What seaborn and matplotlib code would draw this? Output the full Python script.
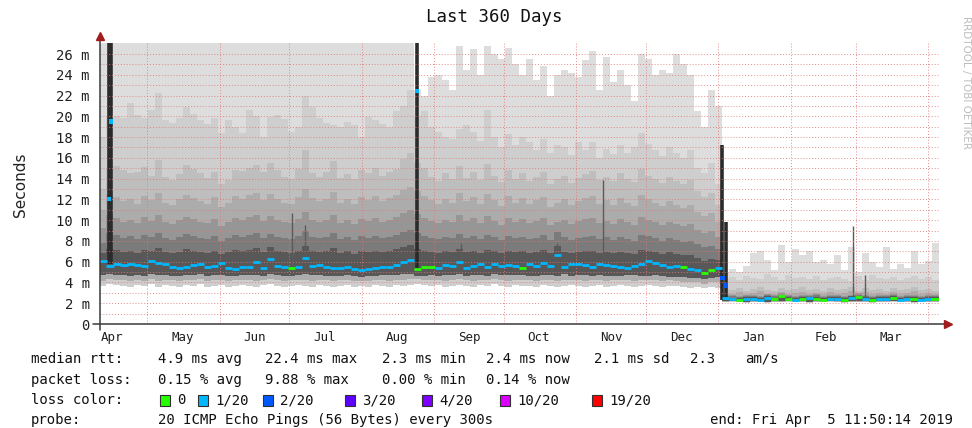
import numpy as np
import pandas as pd
import matplotlib
matplotlib.use("Agg")
import matplotlib.pyplot as plt
import matplotlib.dates as mdates
from matplotlib.ticker import NullFormatter, FixedLocator
from matplotlib.patches import Rectangle
import seaborn as sns

# ---------------- data (3-day bins, 10 Apr 2018 -> 5 Apr 2019) ----------------
START = "2018-04-10 11:50:14"
BIN_DAYS = 3

median = [
6.1, 5.6, 5.8, 5.7, 5.8, 5.7, 5.6, 6.1, 5.9, 5.8,
5.5, 5.4, 5.5, 5.7, 5.8, 5.5, 5.6, 5.9, 5.4, 5.3,
5.5, 5.5, 6.0, 5.4, 6.3, 5.6, 5.5, 5.4, 5.5, 6.4,
5.6, 5.7, 5.5, 5.4, 5.4, 5.5, 5.3, 5.2, 5.3, 5.4,
5.5, 5.5, 5.7, 6.0, 6.2, 5.3, 5.5, 5.5, 5.4, 5.7,
5.6, 6.0, 5.4, 5.6, 5.8, 5.5, 5.8, 5.6, 5.7, 5.6,
5.4, 5.8, 5.6, 5.9, 5.6, 6.6, 5.5, 5.8, 5.8, 5.7,
5.5, 5.8, 5.7, 5.6, 5.5, 5.4, 5.6, 5.8, 6.1, 5.9,
5.7, 5.5, 5.6, 5.5, 5.3, 5.2, 4.9, 5.2, 5.4, 2.5,
2.4, 2.3, 2.4, 2.4, 2.3, 2.5, 2.4, 2.7, 2.4, 2.3,
2.4, 2.5, 2.4, 2.3, 2.4, 2.4, 2.3, 2.5, 2.6, 2.4,
2.3, 2.4, 2.4, 2.5, 2.3, 2.4, 2.4, 2.3, 2.4, 2.4]

# lost pings out of 20 for each bin
loss = [
1, 1, 1, 1, 1, 1, 1, 1, 1, 1,
1, 1, 1, 1, 1, 1, 1, 1, 1, 1,
1, 1, 1, 1, 1, 1, 1, 0, 1, 1,
1, 1, 1, 1, 1, 1, 1, 1, 1, 1,
1, 1, 1, 1, 1, 0, 0, 0, 1, 1,
1, 1, 1, 1, 1, 1, 1, 1, 1, 1,
0, 1, 1, 1, 1, 1, 1, 1, 1, 1,
1, 1, 1, 1, 1, 1, 1, 1, 1, 1,
1, 1, 1, 0, 1, 1, 0, 0, 1, 1,
1, 0, 1, 1, 1, 1, 0, 0, 0, 1,
0, 1, 0, 0, 1, 1, 0, 1, 0, 1,
0, 1, 1, 0, 1, 1, 0, 1, 1, 0]

# smoke: upper edges of the bands (outer -> inner), milliseconds
smoke_u1 = [
27.5, 27.5, 27.5, 27.5, 27.5, 27.5, 27.5, 27.5, 27.5, 27.5,
27.5, 27.5, 27.5, 27.5, 27.5, 27.5, 27.5, 27.5, 27.5, 27.5,
27.5, 27.5, 27.5, 27.5, 27.5, 27.5, 27.5, 27.5, 27.5, 27.5,
27.5, 27.5, 27.5, 27.5, 27.5, 27.5, 27.5, 27.5, 27.5, 27.5,
27.5, 27.5, 27.5, 27.5, 27.5, 22.5, 22.0, 23.8, 24.0, 23.5,
22.5, 26.8, 24.5, 26.5, 24.0, 26.8, 26.0, 25.5, 26.6, 25.0,
24.0, 25.5, 23.5, 24.8, 22.0, 24.0, 24.5, 24.2, 23.8, 25.4,
26.3, 22.5, 25.7, 23.3, 24.5, 23.0, 21.5, 26.0, 25.5, 24.0,
24.5, 24.2, 26.0, 25.0, 24.0, 20.5, 19.0, 22.5, 21.0, 5.0,
5.3, 5.0, 5.6, 6.8, 7.0, 6.2, 5.2, 7.6, 6.0, 7.2,
6.6, 7.0, 6.0, 6.2, 5.8, 6.6, 5.2, 7.4, 5.0, 6.8,
6.0, 5.5, 7.4, 5.3, 5.8, 5.4, 7.0, 5.8, 6.1, 7.8]

smoke_u2 = [
18.0, 20.0, 20.0, 19.8, 21.3, 20.1, 19.8, 20.6, 22.2, 19.6,
19.4, 19.8, 20.9, 20.2, 19.6, 19.3, 19.8, 18.4, 19.6, 19.0,
18.4, 20.6, 20.0, 18.0, 19.9, 20.1, 19.7, 18.5, 19.0, 22.0,
20.9, 19.8, 19.4, 19.2, 19.0, 19.5, 19.2, 18.0, 19.9, 19.6,
19.3, 19.0, 20.5, 21.0, 22.5, 20.0, 20.5, 19.0, 18.5, 18.0,
17.8, 18.8, 19.2, 18.5, 17.6, 20.6, 18.0, 17.0, 18.3, 17.2,
18.0, 17.5, 16.8, 17.8, 16.5, 17.2, 17.0, 16.3, 17.5, 16.8,
17.5, 16.0, 16.9, 16.4, 17.2, 16.5, 17.0, 18.4, 17.3, 16.8,
16.2, 17.0, 16.5, 16.0, 16.8, 15.0, 14.5, 15.5, 13.5, 4.3,
4.5, 4.2, 4.6, 4.4, 4.3, 4.8, 4.5, 4.2, 4.7, 4.4,
4.5, 4.3, 4.6, 4.2, 4.4, 4.5, 4.3, 4.1, 4.6, 4.2,
4.7, 4.4, 4.3, 4.5, 4.2, 4.4, 4.6, 4.3, 4.5, 4.2]

smoke_u3 = [
13.0, 15.0, 15.2, 14.8, 14.5, 14.6, 15.1, 14.3, 15.8, 14.2,
13.9, 14.4, 15.3, 14.9, 14.5, 14.1, 14.6, 13.5, 13.9, 14.8,
14.7, 15.0, 15.3, 14.6, 15.5, 14.8, 14.2, 14.0, 14.9, 16.8,
14.5, 14.2, 14.6, 15.7, 14.1, 14.4, 14.0, 14.8, 14.5, 15.0,
14.3, 14.6, 14.9, 15.9, 16.5, 15.5, 15.0, 14.2, 13.8, 14.5,
14.0, 15.2, 14.1, 14.6, 13.9, 15.4, 14.3, 13.7, 14.8, 14.0,
14.5, 13.8, 14.2, 14.6, 13.5, 14.0, 14.3, 13.6, 14.1, 14.4,
14.7, 13.9, 14.2, 13.8, 14.5, 14.0, 13.7, 14.9, 14.3, 14.0,
13.6, 14.2, 13.8, 13.5, 13.9, 12.8, 12.2, 12.6, 11.5, 3.4,
3.3, 3.5, 3.2, 3.4, 3.6, 3.3, 3.2, 3.5, 3.3, 3.4,
3.6, 3.3, 3.4, 3.2, 3.5, 3.3, 3.4, 3.6, 3.2, 3.5,
3.3, 3.4, 3.2, 3.5, 3.3, 3.4, 3.6, 3.3, 3.4, 3.2]

smoke_u4 = [
11.0, 12.5, 12.2, 11.8, 12.0, 11.6, 12.3, 11.9, 12.6, 11.7,
11.5, 12.0, 12.4, 12.1, 11.8, 11.6, 12.2, 11.3, 11.7, 12.3,
12.0, 12.4, 12.6, 11.9, 12.5, 12.0, 11.7, 11.6, 12.2, 13.0,
12.1, 11.8, 12.0, 12.7, 11.7, 12.0, 11.6, 12.2, 11.9, 12.3,
11.8, 12.1, 12.4, 12.9, 13.2, 12.8, 12.3, 11.9, 11.6, 12.0,
11.7, 12.6, 11.8, 12.2, 11.6, 12.5, 11.9, 11.4, 12.3, 11.7,
12.1, 11.6, 11.9, 12.2, 11.3, 11.7, 12.0, 11.5, 11.8, 12.1,
12.3, 11.6, 11.9, 11.5, 12.1, 11.7, 11.4, 12.4, 12.0, 11.7,
11.4, 11.8, 11.5, 11.2, 11.5, 10.8, 10.4, 10.7, 9.8, 3.0,
2.9, 3.1, 2.9, 3.0, 3.2, 2.9, 2.9, 3.1, 2.9, 3.0,
3.1, 2.9, 3.0, 2.9, 3.1, 2.9, 3.0, 3.2, 2.9, 3.1,
2.9, 3.0, 2.9, 3.1, 2.9, 3.0, 3.2, 2.9, 3.0, 2.9]

smoke_u5 = [
9.2, 10.5, 10.2, 9.8, 10.0, 9.7, 10.3, 9.9, 10.5, 9.8,
9.6, 10.0, 10.3, 10.1, 9.8, 9.7, 10.1, 9.4, 9.8, 10.2,
10.0, 10.3, 10.5, 9.9, 10.4, 10.0, 9.8, 9.7, 10.1, 10.8,
10.0, 9.8, 10.0, 10.5, 9.7, 10.0, 9.6, 10.1, 9.9, 10.2,
9.8, 10.0, 10.3, 10.7, 11.0, 10.6, 10.2, 9.9, 9.7, 10.0,
9.8, 10.5, 9.9, 10.2, 9.7, 10.4, 9.9, 9.5, 10.2, 9.8,
10.1, 9.7, 9.9, 10.2, 9.5, 9.8, 10.0, 9.6, 9.9, 10.1,
10.2, 9.7, 9.9, 9.6, 10.1, 9.8, 9.5, 10.3, 10.0, 9.8,
9.5, 9.8, 9.6, 9.4, 9.6, 9.1, 8.8, 9.0, 8.4, 2.8,
2.8, 2.7, 2.8, 2.8, 2.7, 2.9, 2.8, 3.0, 2.8, 2.7,
2.8, 2.8, 2.9, 2.7, 2.8, 2.8, 2.7, 2.8, 3.0, 2.8,
2.7, 2.8, 2.8, 2.9, 2.7, 2.8, 2.8, 2.7, 2.8, 2.8]

smoke_u6 = [
7.8, 8.8, 8.6, 8.3, 8.5, 8.2, 8.6, 8.4, 8.8, 8.3,
8.1, 8.4, 8.7, 8.5, 8.3, 8.2, 8.5, 8.0, 8.3, 8.6,
8.4, 8.6, 8.8, 8.3, 8.7, 8.4, 8.3, 8.2, 8.5, 9.0,
8.4, 8.3, 8.4, 8.8, 8.2, 8.4, 8.1, 8.5, 8.3, 8.5,
8.3, 8.4, 8.6, 8.9, 9.1, 8.8, 8.5, 8.3, 8.2, 8.4,
8.3, 8.7, 8.3, 8.5, 8.2, 8.6, 8.4, 8.1, 8.5, 8.3,
8.4, 8.2, 8.3, 8.6, 8.1, 8.9, 8.4, 8.1, 8.3, 8.4,
8.5, 8.2, 8.4, 8.1, 8.4, 8.2, 8.0, 8.6, 8.5, 8.3,
8.0, 8.3, 8.1, 7.9, 8.0, 7.7, 7.4, 7.5, 7.2, 2.7,
2.65, 2.6, 2.7, 2.7, 2.6, 2.75, 2.7, 2.8, 2.7, 2.6,
2.7, 2.7, 2.75, 2.6, 2.7, 2.7, 2.6, 2.7, 2.8, 2.7,
2.6, 2.7, 2.7, 2.75, 2.6, 2.7, 2.7, 2.6, 2.7, 2.7]

smoke_u7 = [
6.8, 7.2, 7.1, 6.9, 7.0, 6.8, 7.1, 7.0, 7.3, 6.9,
6.8, 6.9, 7.2, 7.0, 6.9, 6.8, 7.0, 6.7, 6.9, 7.1,
7.0, 7.1, 7.3, 6.9, 7.4, 7.0, 6.9, 6.8, 7.0, 7.5,
7.0, 6.9, 7.0, 7.3, 6.8, 7.0, 6.7, 7.0, 6.9, 7.0,
6.9, 7.0, 7.2, 7.4, 7.6, 7.2, 7.0, 6.9, 6.8, 7.0,
6.9, 7.2, 6.9, 7.0, 6.8, 7.1, 7.0, 6.8, 7.0, 6.9,
7.0, 6.8, 6.9, 7.1, 6.8, 7.5, 6.9, 6.8, 6.9, 7.0,
7.0, 6.8, 6.9, 6.8, 6.9, 6.8, 6.7, 7.1, 7.0, 6.9,
6.7, 6.9, 6.7, 6.6, 6.6, 6.4, 6.1, 6.3, 6.2, 2.6,
2.55, 2.5, 2.6, 2.6, 2.5, 2.65, 2.55, 2.7, 2.6, 2.5,
2.6, 2.6, 2.6, 2.5, 2.6, 2.6, 2.5, 2.65, 2.7, 2.6,
2.5, 2.6, 2.6, 2.65, 2.5, 2.6, 2.6, 2.5, 2.6, 2.6]

# smoke: lower edges (outer -> inner)
smoke_d1 = [
3.7, 3.9, 3.8, 3.7, 3.6, 3.8, 3.7, 3.9, 3.6, 3.8,
3.7, 3.6, 3.8, 3.7, 3.9, 3.6, 3.7, 3.8, 3.6, 3.7,
3.8, 3.7, 3.6, 3.8, 3.9, 3.7, 3.6, 3.7, 3.8, 3.7,
3.6, 3.8, 3.7, 3.6, 3.7, 3.8, 3.6, 3.7, 3.6, 3.8,
3.7, 3.6, 3.8, 3.7, 3.8, 3.9, 3.8, 3.7, 3.8, 3.6,
3.7, 3.8, 3.7, 3.6, 3.8, 3.7, 3.9, 3.7, 3.6, 3.8,
3.7, 3.7, 3.6, 3.8, 3.7, 3.6, 3.7, 3.8, 3.7, 3.6,
3.7, 3.8, 3.6, 3.7, 3.8, 3.7, 3.6, 3.7, 3.8, 3.7,
3.6, 3.7, 3.7, 3.6, 3.5, 3.6, 3.5, 3.6, 3.5, 2.1,
2.15, 2.1, 2.05, 2.1, 2.1, 2.05, 2.1, 2.1, 2.15, 2.1,
2.1, 2.05, 2.1, 2.1, 2.15, 2.1, 2.05, 2.1, 2.1, 2.1,
2.05, 2.1, 2.1, 2.15, 2.1, 2.1, 2.05, 2.1, 2.1, 2.1]

smoke_d2 = [
4.1, 4.3, 4.2, 4.2, 4.1, 4.2, 4.1, 4.3, 4.1, 4.2,
4.2, 4.1, 4.2, 4.2, 4.3, 4.1, 4.2, 4.2, 4.1, 4.2,
4.2, 4.2, 4.1, 4.2, 4.3, 4.2, 4.1, 4.2, 4.2, 4.2,
4.1, 4.2, 4.2, 4.1, 4.2, 4.2, 4.1, 4.1, 4.1, 4.2,
4.2, 4.1, 4.2, 4.2, 4.3, 4.3, 4.2, 4.2, 4.2, 4.1,
4.2, 4.3, 4.2, 4.1, 4.2, 4.2, 4.3, 4.2, 4.1, 4.2,
4.2, 4.2, 4.1, 4.2, 4.2, 4.1, 4.2, 4.2, 4.2, 4.1,
4.2, 4.2, 4.1, 4.2, 4.2, 4.2, 4.1, 4.2, 4.2, 4.2,
4.1, 4.2, 4.1, 4.0, 4.0, 4.0, 3.9, 4.0, 4.0, 2.15,
2.2, 2.15, 2.1, 2.15, 2.15, 2.1, 2.15, 2.15, 2.2, 2.15,
2.15, 2.1, 2.15, 2.15, 2.2, 2.15, 2.1, 2.15, 2.15, 2.15,
2.1, 2.15, 2.15, 2.2, 2.15, 2.15, 2.1, 2.15, 2.15, 2.15]

smoke_d3 = [
4.7, 4.8, 4.7, 4.7, 4.6, 4.7, 4.6, 4.8, 4.7, 4.7,
4.6, 4.6, 4.7, 4.7, 4.8, 4.6, 4.7, 4.7, 4.6, 4.6,
4.7, 4.7, 4.7, 4.6, 4.8, 4.7, 4.6, 4.6, 4.7, 4.8,
4.7, 4.7, 4.6, 4.6, 4.6, 4.7, 4.6, 4.5, 4.6, 4.6,
4.7, 4.7, 4.7, 4.8, 4.8, 4.6, 4.6, 4.7, 4.6, 4.7,
4.7, 4.8, 4.6, 4.7, 4.7, 4.6, 4.8, 4.7, 4.7, 4.7,
4.7, 4.6, 4.6, 4.7, 4.7, 4.6, 4.8, 4.6, 4.7, 4.7,
4.6, 4.7, 4.6, 4.6, 4.6, 4.7, 4.7, 4.6, 4.6, 4.7,
4.6, 4.5, 4.5, 4.5, 4.4, 4.4, 4.3, 4.4, 4.5, 2.2,
2.25, 2.2, 2.15, 2.2, 2.2, 2.15, 2.2, 2.2, 2.25, 2.2,
2.2, 2.15, 2.2, 2.2, 2.25, 2.2, 2.15, 2.2, 2.2, 2.2,
2.15, 2.2, 2.2, 2.25, 2.2, 2.2, 2.15, 2.2, 2.2, 2.2]

# short high-latency events (day offset from start)
spike_day = [3.9, 5.0, 136.3, 267.3, 268.7]
spike_low = [5.8, 5.8, 5.3, 2.3, 2.3]
spike_top = [27.5, 27.5, 27.5, 17.2, 9.8]
spike_median = [12.0, 19.5, 22.4, 4.4, 3.7]
spike_loss = [1, 1, 1, 2, 2]

streak_day = [82.6, 88.2, 155.2, 196.4, 216.1, 323.4, 328.6]
streak_low = [5.5, 5.5, 5.6, 5.8, 5.7, 2.5, 2.5]
streak_top = [10.7, 9.5, 7.8, 7.8, 13.9, 9.4, 4.7]

loss_levels = [0, 1, 2, 3, 4, 10, 19]
loss_names = ["0", "1/20", "2/20", "3/20", "4/20", "10/20", "19/20"]
loss_colors = ["#26ff00", "#00b8ff", "#0059ff", "#5e00ff", "#7e00ff", "#dd00ff", "#ff0000"]

title = "Last 360 Days"
rtt_stats = ["4.9 ms avg", "22.4 ms max", "2.3 ms min", "2.4 ms now", "2.1 ms sd", "2.3", "am/s"]
loss_stats = ["0.15 % avg", "9.88 % max", "0.00 % min", "0.14 % now"]
probe_text = "20 ICMP Echo Pings (56 Bytes) every 300s"
end_text = "end: Fri Apr  5 11:50:14 2019"

# ---------------- figure ----------------
sns.set_style("white")
plt.rcParams["font.family"] = ["DejaVu Sans Mono", "DejaVu Sans"]

W, H = 972, 428
fig = plt.figure(figsize=(W / 100, H / 100), dpi=100)
ax = fig.add_axes([99.5 / W, 1 - 324 / H, 839 / W, 281 / H])
ax.set_facecolor("white")

t0 = mdates.date2num(pd.Timestamp(START))
n = len(median)
edges = t0 + np.arange(n + 1) * BIN_DAYS
centers = t0 + (np.arange(n) + 0.5) * BIN_DAYS

def ext(a):
    a = np.asarray(a, float)
    return np.append(a, a[-1])

bands = [
    (smoke_d1, smoke_u1, "#dddddd"),
    (smoke_d1, smoke_u2, "#cecece"),
    (smoke_d2, smoke_u3, "#bebebe"),
    (smoke_d2, smoke_u4, "#acacac"),
    (smoke_d3, smoke_u5, "#969696"),
    (smoke_d3, smoke_u6, "#7b7b7b"),
    (smoke_d3, smoke_u7, "#585858"),
]
for lo, hi, col in bands:
    ax.fill_between(edges, ext(lo), ext(hi), step="post", color=col, lw=0, zorder=1)

sx = t0 + np.asarray(spike_day)
ax.vlines(t0 + np.asarray(streak_day), streak_low, streak_top, color="#5a5a5a", lw=1.0, zorder=1.5)
ax.vlines(sx, spike_low, spike_top, color="#2b2b2b", lw=2.6, zorder=1.6)

pal = dict(zip(loss_names, loss_colors))
name_of = dict(zip(loss_levels, loss_names))
df = pd.DataFrame({"t": centers, "rtt": median, "loss": [name_of[v] for v in loss]})
sns.scatterplot(data=df, x="t", y="rtt", hue="loss", palette=pal, marker="_",
                s=26, linewidth=2.0, legend=False, ax=ax, zorder=6)
dfs = pd.DataFrame({"t": sx, "rtt": spike_median, "loss": [name_of[v] for v in spike_loss]})
sns.scatterplot(data=dfs, x="t", y="rtt", hue="loss", palette=pal, marker="s",
                s=9, linewidth=0, legend=False, ax=ax, zorder=6)

# axes
ax.set_xlim(t0, t0 + 360)
ax.set_ylim(0, 27.06)
ax.set_xlabel("")
ax.set_ylabel("")
yt = np.arange(0, 27, 2)
ax.yaxis.set_major_locator(FixedLocator(yt))
ax.yaxis.set_minor_locator(FixedLocator(np.arange(1, 27, 2)))
ax.set_yticklabels(["0" if v == 0 else f"{v} m" for v in yt])
ax.xaxis.set_major_locator(mdates.MonthLocator())
ax.xaxis.set_major_formatter(NullFormatter())
ax.xaxis.set_minor_locator(mdates.MonthLocator(bymonthday=16))
ax.xaxis.set_minor_formatter(mdates.DateFormatter("%b"))

gkw = dict(color="#e07878", linestyle=(0, (1, 2)), linewidth=0.7, alpha=0.85)
ax.yaxis.grid(True, which="both", **gkw)
ax.xaxis.grid(True, which="major", **gkw)
ax.set_axisbelow(False)
for gl in ax.get_xgridlines() + ax.get_ygridlines():
    gl.set_zorder(2)

ax.tick_params(axis="y", which="major", length=4, width=0.8, color="#888888",
               labelsize=10, pad=3, labelcolor="#202020")
ax.tick_params(axis="y", which="minor", length=2, width=0.6, color="#aaaaaa")
ax.tick_params(axis="x", which="major", length=3, width=0.8, color="#888888")
ax.tick_params(axis="x", which="minor", length=0, labelsize=9, pad=5, labelcolor="#202020")
for sp in ax.spines.values():
    sp.set_visible(False)

# axis lines with arrow heads
ax.plot([-0.008, 1.006], [0, 0], transform=ax.transAxes, color="#3a3a3a", lw=1.1,
        clip_on=False, zorder=7)
ax.plot([0, 0], [-0.02, 1.012], transform=ax.transAxes, color="#3a3a3a", lw=1.1,
        clip_on=False, zorder=7)
ax.plot([1.011], [0], marker=">", ms=6, color="#a11d1d", transform=ax.transAxes,
        clip_on=False, zorder=8)
ax.plot([0], [1.026], marker="^", ms=6, color="#a11d1d", transform=ax.transAxes,
        clip_on=False, zorder=8)

# texts
def ftext(x, y, s, **kw):
    kw.setdefault("size", 10.1)
    kw.setdefault("family", "DejaVu Sans Mono")
    kw.setdefault("ha", "left")
    kw.setdefault("va", "center")
    kw.setdefault("color", "#111111")
    fig.text(x / W, 1 - y / H, s, **kw)

ftext(494, 17, title, size=12.5, ha="center")
ftext(20, 185, "Seconds", size=11, ha="center", rotation=90, family="DejaVu Sans", color="#222222")
ftext(966, 82, "RRDTOOL / TOBI OETIKER", size=7.5, ha="center", rotation=270,
      family="DejaVu Sans", color="#bdbdbd")

ftext(31, 359, "median rtt:")
for x, s in zip([158, 265, 382, 486, 594, 690, 745], rtt_stats):
    ftext(x, 359, s)
ftext(31, 380, "packet loss:")
for x, s in zip([158, 265, 382, 486], loss_stats):
    ftext(x, 380, s)
ftext(31, 400, "loss color:")
for x, s, c in zip([160, 198, 263, 345, 422, 500, 592], loss_names, loss_colors):
    fig.add_artist(Rectangle((x / W, 1 - 405.5 / H), 10 / W, 11 / H, transform=fig.transFigure,
                             facecolor=c, edgecolor="#303030", lw=0.8))
    ftext(x + 17, 400, s)
ftext(31, 420, "probe:")
ftext(158, 420, probe_text)
ftext(710, 420, end_text)

fig.savefig("out.png", dpi=100, facecolor="white")
